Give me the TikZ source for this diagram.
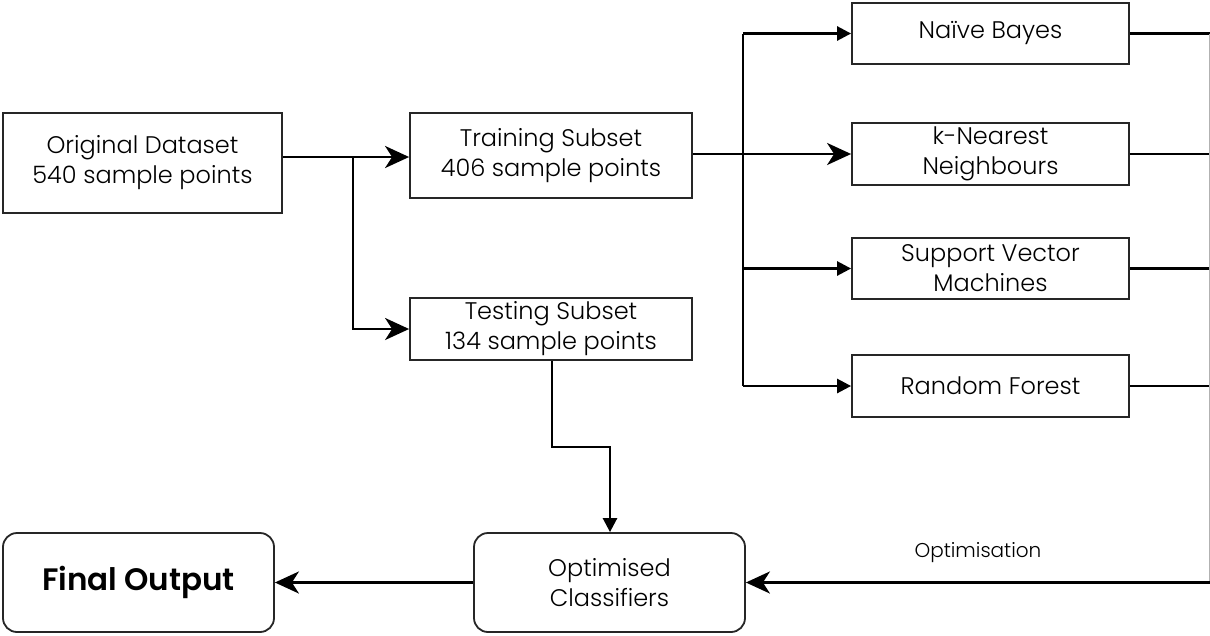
\documentclass[tikz,border=0pt]{standalone}
\usepackage{fontspec}
\setmainfont{Poppins Light}[BoldFont=Poppins SemiBold]
\usetikzlibrary{arrows.meta}
\begin{document}
\begin{tikzpicture}[x=1pt,y=-1pt,
  box/.style={draw=black!85,line width=1.8pt,align=center,font=\fontsize{24}{30}\selectfont,inner sep=0pt},
  rbox/.style={box,rounded corners=14pt},
  conn/.style={line width=2.6pt,black},
  barb/.style={-{Stealth[length=24pt,width=22pt,inset=7pt]}},
  tri/.style={-{Triangle[length=14pt,width=14pt]}}]
\useasboundingbox (0,0) rectangle (1210,635);
\node[box,minimum width=279pt,minimum height=100pt] (orig) at (142.5,163) {Original Dataset\\540 sample points};
\node[box,minimum width=282pt,minimum height=85pt] (train) at (551,155.5) {Training Subset\\406 sample points};
\node[box,minimum width=282pt,minimum height=62pt] (test) at (551,329) {Testing Subset\\134 sample points};
\node[box,minimum width=277pt,minimum height=61pt] (nb) at (990.5,33.5) {Naïve Bayes};
\node[box,minimum width=277pt,minimum height=62pt] (knn) at (990.5,154) {k-Nearest\\Neighbours};
\node[box,minimum width=277pt,minimum height=61pt] (svm) at (990.5,268.5) {Support Vector\\Machines};
\node[box,minimum width=277pt,minimum height=62pt] (rf) at (990.5,386) {Random Forest};
\node[rbox,minimum width=271pt,minimum height=99pt] (opt) at (609.5,582.5) {Optimised\\Classifiers};
\node[rbox,minimum width=271pt,minimum height=99pt,font=\fontsize{31}{36}\selectfont\bfseries] (fin) at (138.5,582.5) {Final Output};
\coordinate (j1) at (353,157);
\coordinate (tx) at (743,0);
\coordinate (rx) at (1210,0);
\coordinate (bend1) at (552,447);
\coordinate (bend2) at (610,447);
% original -> training / testing
\draw[conn,barb] (orig.east|-j1) -- (train.west|-j1);
\draw[conn,barb] (j1) |- (test.west);
% training -> kNN
\draw[conn,barb] (train.east|-knn.west) -- (knn.west);
% trunk
\draw[conn] (tx|-nb.west) -- (tx|-rf.west);
\draw[conn,tri] (tx|-nb.west) -- (nb.west);
\draw[conn,tri] (tx|-svm.west) -- (svm.west);
\draw[conn,tri] (tx|-rf.west) -- (rf.west);
% outputs to right edge
\draw[conn] (nb.east) -- (rx|-nb.east);
\draw[conn] (knn.east) -- (rx|-knn.east);
\draw[conn] (svm.east) -- (rx|-svm.east);
\draw[conn] (rf.east) -- (rx|-rf.east);
\draw[line width=1pt,black!30] (1209.5,33.5) -- (1209.5,583);
% testing -> optimised
\draw[conn,tri] (test.south-|bend1) -- (bend1) -- (bend2) -- (bend2|-opt.north);
% optimisation feedback
\draw[conn,barb] (rx|-opt.east) -- node[above=15pt,font=\fontsize{20}{24}\selectfont]{Optimisation} (opt.east);
% optimised -> final
\draw[conn,barb] (opt.west) -- (fin.east);
\end{tikzpicture}
\end{document}
